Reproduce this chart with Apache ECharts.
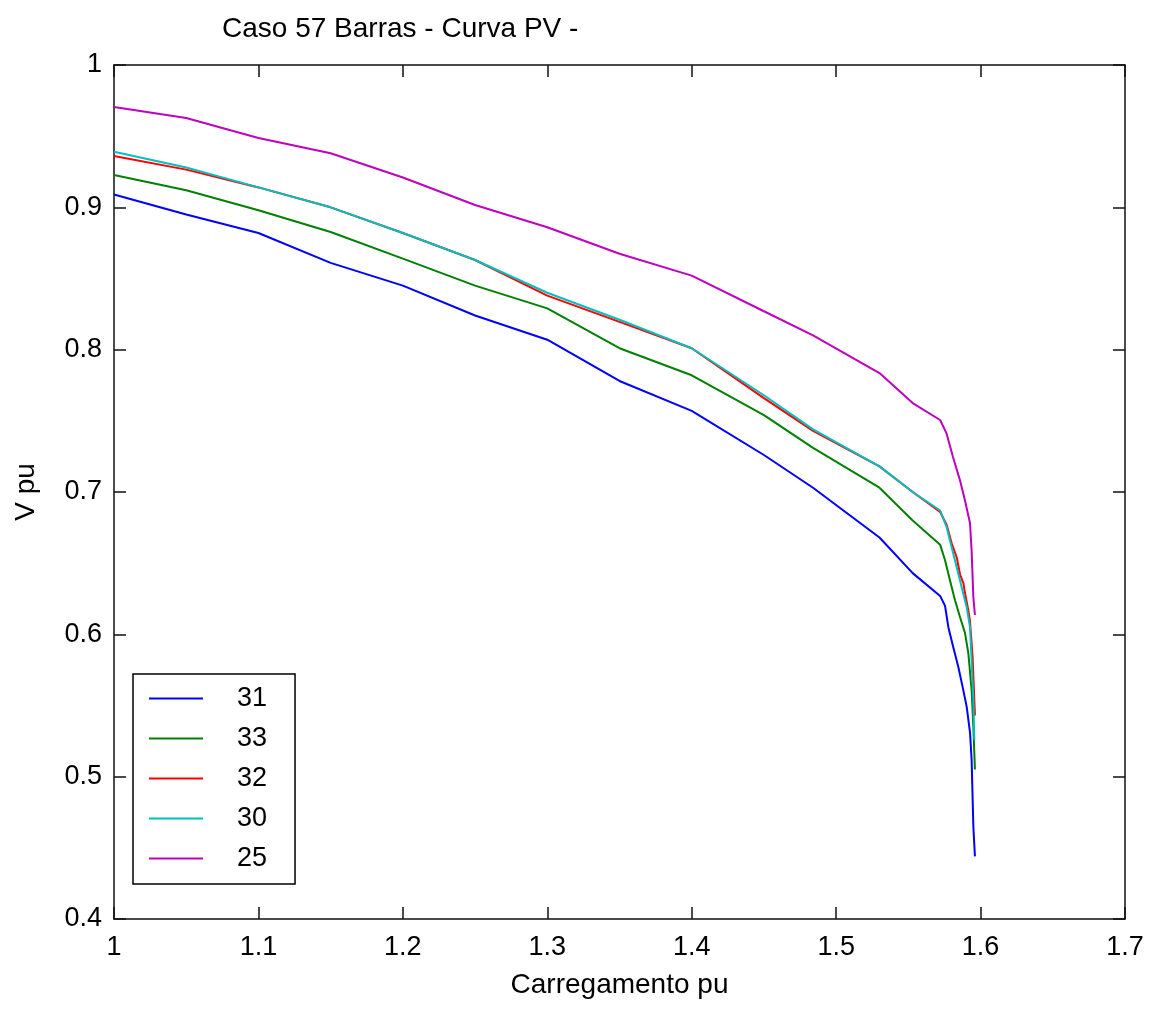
<!DOCTYPE html>
<html>
<head>
<meta charset="utf-8">
<script src="https://cdn.jsdelivr.net/npm/echarts@6/dist/echarts.min.js"></script>
<style>html,body{margin:0;padding:0;background:#fff;}#c{width:1152px;height:1009px;}</style>
</head>
<body>
<div id="c"></div>
<script>
// Shared loading values (pu) for the upper part of the curves
const loadMain = [1.00, 1.05, 1.10, 1.15, 1.20, 1.25, 1.30, 1.35, 1.40, 1.45, 1.484, 1.53, 1.553, 1.572];

// Bus 31
const v31 = [0.909, 0.895, 0.882, 0.861, 0.845, 0.824, 0.807, 0.778, 0.757, 0.726, 0.703, 0.668, 0.643, 0.627];
const load31Tail = [1.5754, 1.5777, 1.5811, 1.5846, 1.5880, 1.5904, 1.5927, 1.5938, 1.5950, 1.5961];
const v31Tail = [0.620, 0.605, 0.591, 0.577, 0.561, 0.549, 0.531, 0.512, 0.465, 0.444];

// Bus 33
const v33 = [0.9227, 0.912, 0.898, 0.8827, 0.864, 0.845, 0.829, 0.801, 0.782, 0.754, 0.731, 0.703, 0.680, 0.663];
const load33Tail = [1.5754, 1.5788, 1.5823, 1.5858, 1.5892, 1.5915, 1.5938, 1.5950, 1.5961];
const v33Tail = [0.652, 0.638, 0.624, 0.612, 0.601, 0.587, 0.561, 0.535, 0.505];

// Bus 32
const v32 = [0.936, 0.9265, 0.914, 0.900, 0.882, 0.863, 0.838, 0.8195, 0.801, 0.766, 0.743, 0.718, 0.700, 0.686];
const load32Tail = [1.5765, 1.5800, 1.5835, 1.5858, 1.5881, 1.5892, 1.5915, 1.5927, 1.5945, 1.5961];
const v32Tail = [0.677, 0.664, 0.654, 0.642, 0.636, 0.629, 0.617, 0.609, 0.584, 0.543];

// Bus 30
const v30 = [0.939, 0.928, 0.914, 0.900, 0.882, 0.863, 0.840, 0.821, 0.801, 0.768, 0.744, 0.718, 0.700, 0.687];
const load30Tail = [1.5765, 1.5800, 1.5835, 1.5869, 1.5904, 1.5927, 1.5938, 1.5950, 1.5957];
const v30Tail = [0.6754, 0.661, 0.647, 0.633, 0.619, 0.605, 0.582, 0.554, 0.526];

// Bus 25
const v25 = [0.9705, 0.9628, 0.9487, 0.938, 0.921, 0.9016, 0.886, 0.8674, 0.852, 0.827, 0.810, 0.7836, 0.7625, 0.7506];
const load25Tail = [1.5765, 1.5809, 1.5858, 1.5892, 1.5927, 1.5938, 1.5950, 1.5961];
const v25Tail = [0.741, 0.7246, 0.708, 0.694, 0.678, 0.659, 0.626, 0.6136];

const seriesNames = ['31', '33', '32', '30', '25'];
const seriesColors = ['#0000ff', '#008000', '#ff0000', '#00bfbf', '#bf00bf'];

const xTicks = { min: 1, max: 1.7, interval: 0.1 };
const yTicks = { min: 0.4, max: 1, interval: 0.1 };

function build(mainV, tailX, tailV) {
  const d = loadMain.map((x, i) => [x, mainV[i]]);
  tailX.forEach((x, i) => d.push([x, tailV[i]]));
  return d;
}

const allData = [
  build(v31, load31Tail, v31Tail),
  build(v33, load33Tail, v33Tail),
  build(v32, load32Tail, v32Tail),
  build(v30, load30Tail, v30Tail),
  build(v25, load25Tail, v25Tail)
];

const FONT = '"Liberation Sans", Arial, sans-serif';
const axisLine = { show: true, lineStyle: { color: '#111', width: 1.5 } };

const chart = echarts.init(document.getElementById('c'), null, { renderer: 'canvas' });
chart.setOption({
  backgroundColor: '#ffffff',
  animation: false,
  title: {
    text: 'Caso 57 Barras - Curva PV -',
    left: 217, top: 10,
    textStyle: { fontFamily: FONT, fontSize: 28, fontWeight: 'normal', color: '#000' }
  },
  legend: {
    orient: 'vertical',
    left: 133, top: 674,
    padding: [11, 28, 12, 15],
    borderColor: '#000', borderWidth: 1.5,
    itemWidth: 54, itemHeight: 20, itemGap: 13,
    itemStyle: { opacity: 0 },
    lineStyle: { width: 2 },
    data: seriesNames,
    textStyle: { fontFamily: FONT, fontSize: 27, color: '#000', padding: [0, 0, 0, 29] }
  },
  grid: { left: 114, right: 27, top: 65, bottom: 90, containLabel: false },
  xAxis: [
    {
      type: 'value', position: 'bottom', min: xTicks.min, max: xTicks.max, interval: xTicks.interval,
      name: 'Carregamento pu', nameLocation: 'middle', nameGap: 52,
      nameTextStyle: { fontFamily: FONT, fontSize: 28, color: '#000' },
      axisLine: axisLine,
      axisTick: { show: true, inside: true, length: 12, lineStyle: { color: '#111', width: 1.5 } },
      axisLabel: { fontFamily: FONT, fontSize: 27, color: '#000', margin: 15 },
      splitLine: { show: false }
    },
    {
      type: 'value', position: 'top', min: xTicks.min, max: xTicks.max, interval: xTicks.interval,
      axisLine: axisLine,
      axisTick: { show: true, inside: true, length: 12, lineStyle: { color: '#111', width: 1.5 } },
      axisLabel: { show: false }, splitLine: { show: false }
    }
  ],
  yAxis: [
    {
      type: 'value', position: 'left', min: yTicks.min, max: yTicks.max, interval: yTicks.interval,
      name: 'V pu', nameLocation: 'middle', nameGap: 74, nameRotate: 90,
      nameTextStyle: { fontFamily: FONT, fontSize: 28, color: '#000' },
      axisLine: axisLine,
      axisTick: { show: true, inside: true, length: 12, lineStyle: { color: '#111', width: 1.5 } },
      axisLabel: { fontFamily: FONT, fontSize: 27, color: '#000', margin: 12 },
      splitLine: { show: false }
    },
    {
      type: 'value', position: 'right', min: yTicks.min, max: yTicks.max, interval: yTicks.interval,
      axisLine: axisLine,
      axisTick: { show: true, inside: true, length: 12, lineStyle: { color: '#111', width: 1.5 } },
      axisLabel: { show: false }, splitLine: { show: false }
    }
  ],
  series: seriesNames.map((n, i) => ({
    name: n,
    type: 'line',
    xAxisIndex: 0, yAxisIndex: 0,
    data: allData[i],
    symbol: 'none', showSymbol: false,
    smooth: false,
    color: seriesColors[i],
    lineStyle: { color: seriesColors[i], width: 2 },
    z: 2 + i
  }))
});
</script>
</body>
</html>
